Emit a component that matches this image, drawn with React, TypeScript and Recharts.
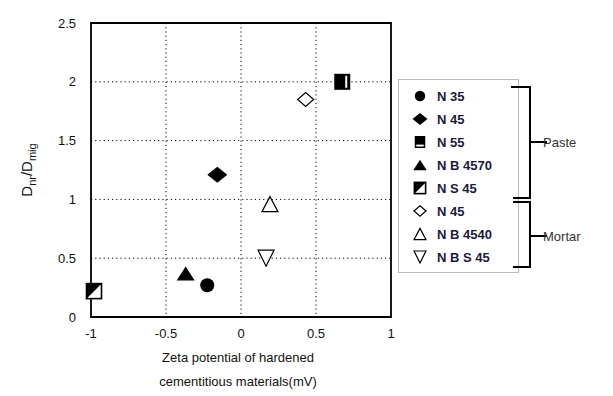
import React from 'react';
import { ScatterChart, Scatter, XAxis, YAxis, CartesianGrid, ReferenceArea, Label } from 'recharts';

const xTicks = [-1, -0.5, 0, 0.5, 1];
const yTicks = [0, 0.5, 1, 1.5, 2, 2.5];
const xTickLabels = ['-1', '-0.5', '0', '0.5', '1'];
const yTickLabels = ['0', '0.5', '1', '1.5', '2', '2.5'];

const pasteN35 = [{ x: -0.225, y: 0.27 }];
const pasteN45 = [{ x: -0.158, y: 1.21 }];
const pasteN55 = [{ x: 0.675, y: 2.0 }];
const pasteNB4570 = [{ x: -0.369, y: 0.37 }];
const pasteNS45 = [{ x: -0.98, y: 0.22 }];
const mortarN45 = [{ x: 0.431, y: 1.85 }];
const mortarNB4540 = [{ x: 0.193, y: 0.96 }];
const mortarNBS45 = [{ x: 0.167, y: 0.5 }];

const legendNames = ['N 35', 'N 45', 'N 55', 'N B 4570', 'N S 45', 'N 45', 'N B 4540', 'N B S 45'];
const groupNames = ['Paste', 'Mortar'];

type Kind = 'circle' | 'diamondF' | 'squareF' | 'triF' | 'squareHalf' | 'diamondO' | 'triO' | 'triDownO';
const kinds: Kind[] = ['circle', 'diamondF', 'squareF', 'triF', 'squareHalf', 'diamondO', 'triO', 'triDownO'];

function Marker({ kind, cx, cy, s = 1, legend = false }: { kind: Kind; cx: number; cy: number; s?: number; legend?: boolean }) {
  switch (kind) {
    case 'circle':
      return <circle cx={cx} cy={cy} r={7 * s} fill="#000" />;
    case 'diamondF':
      return <polygon points={`${cx},${cy - 8 * s} ${cx + 10 * s},${cy} ${cx},${cy + 8 * s} ${cx - 10 * s},${cy}`} fill="#000" />;
    case 'squareF':
      return legend ? (
        <g>
          <rect x={cx - 7 * s} y={cy - 8 * s} width={14 * s} height={16 * s} fill="#000" />
          <rect x={cx - 5 * s} y={cy + 3.5 * s} width={10 * s} height={2.5 * s} fill="#fff" />
        </g>
      ) : (
        <g>
          <rect x={cx - 8 * s} y={cy - 8 * s} width={16 * s} height={16 * s} fill="#000" />
          <rect x={cx + 3 * s} y={cy - 6 * s} width={2 * s} height={12 * s} fill="#fff" />
        </g>
      );
    case 'triF':
      return <polygon points={`${cx},${cy - 7 * s} ${cx + 9 * s},${cy + 7 * s} ${cx - 9 * s},${cy + 7 * s}`} fill="#000" />;
    case 'squareHalf':
      return (
        <g>
          <rect x={cx - 7.5 * s} y={cy - 7.5 * s} width={15 * s} height={15 * s} fill="#fff" stroke="#000" strokeWidth={1.6} />
          <polygon points={`${cx - 7.5 * s},${cy - 7.5 * s} ${cx + 7.5 * s},${cy - 7.5 * s} ${cx - 7.5 * s},${cy + 7.5 * s}`} fill="#000" />
        </g>
      );
    case 'diamondO':
      return <polygon points={`${cx},${cy - 7 * s} ${cx + 8 * s},${cy} ${cx},${cy + 7 * s} ${cx - 8 * s},${cy}`} fill="#fff" stroke="#000" strokeWidth={1.2} />;
    case 'triO':
      return <polygon points={`${cx},${cy - 7.5 * s} ${cx + 8 * s},${cy + 7.5 * s} ${cx - 8 * s},${cy + 7.5 * s}`} fill="#fff" stroke="#000" strokeWidth={1.2} />;
    case 'triDownO':
      return <polygon points={`${cx - 8 * s},${cy - 8 * s} ${cx + 8 * s},${cy - 8 * s} ${cx},${cy + 8 * s}`} fill="#fff" stroke="#000" strokeWidth={1.2} />;
  }
  return null;
}

const shapeFor = (kind: Kind) => (p: any) => <Marker kind={kind} cx={p.cx} cy={p.cy} />;

const series = [pasteN35, pasteN45, pasteN55, pasteNB4570, pasteNS45, mortarN45, mortarNB4540, mortarNBS45];

const font = '"Liberation Sans", Arial, sans-serif';

export default function App() {
  return (
    <div style={{ position: 'absolute', left: 0, top: 0, width: 613, height: 396, background: '#fff' }}>
      <ScatterChart width={613} height={396} margin={{ top: 23, right: 222, bottom: 0, left: 0 }}>
        <CartesianGrid stroke="#000" strokeDasharray="1.2 3" strokeWidth={1} horizontalValues={[0.5, 1, 1.5, 2]} verticalValues={[-0.5, 0, 0.5]} />
        <XAxis
          type="number"
          dataKey="x"
          domain={[-1, 1]}
          ticks={xTicks}
          tickFormatter={(v: number) => xTickLabels[xTicks.indexOf(v)] ?? String(v)}
          axisLine={false}
          tickLine={false}
          tickMargin={6}
          height={79}
          tick={{ fontSize: 13, fill: '#111', fontFamily: font }}
        >
          <Label
            content={() => (
              <g>
                <text x={238} y={362} textAnchor="middle" fontSize={13} fill="#111" fontFamily={font}>Zeta potential of hardened</text>
                <text x={238} y={386} textAnchor="middle" fontSize={13} fill="#111" fontFamily={font}>cementitious materials(mV)</text>
              </g>
            )}
          />
        </XAxis>
        <YAxis
          type="number"
          dataKey="y"
          domain={[0, 2.5]}
          ticks={yTicks}
          tickFormatter={(v: number) => yTickLabels[yTicks.indexOf(v)] ?? String(v)}
          axisLine={false}
          tickLine={false}
          tickMargin={9}
          width={91}
          tick={{ fontSize: 13, fill: '#111', fontFamily: font }}
        >
          <Label
            content={() => (
              <text x={0} y={0} transform="translate(32,170) rotate(-90)" textAnchor="middle" fontSize={15} fill="#111" fontFamily={font}>
                <tspan>D</tspan>
                <tspan fontSize={11} dy={4}>nr</tspan>
                <tspan dy={-4}>/D</tspan>
                <tspan fontSize={11} dy={4}>mig</tspan>
              </text>
            )}
          />
        </YAxis>
        <ReferenceArea x1={-1} x2={1} y1={0} y2={2.5} fill="none" stroke="#000" strokeWidth={1.8} fillOpacity={0} ifOverflow="visible" />
        {series.map((d, i) => (
          <Scatter key={i} name={legendNames[i]} data={d} shape={shapeFor(kinds[i])} isAnimationActive={false} />
        ))}
      </ScatterChart>
      <svg width={613} height={396} style={{ position: 'absolute', left: 0, top: 0, pointerEvents: 'none' }}>
        <rect x={398.5} y={79.5} width={120} height={193} fill="#fff" stroke="#bbb" strokeWidth={1} />
        {legendNames.map((n, i) => {
          const cy = 96 + i * 23;
          return (
            <g key={i}>
              <Marker kind={kinds[i]} cx={420} cy={cy} s={0.75} legend />
              <text x={437} y={cy + 5} fontSize={13} fontWeight="bold" fill="#1a1a3a" fontFamily={font}>{n}</text>
            </g>
          );
        })}
        <g stroke="#000" strokeWidth={2} fill="none">
          <polyline points="511,87 530,87 530,198 513,198" />
          <line x1={530} y1={142} x2={547} y2={142} />
          <polyline points="513,202 530,202 530,267 513,267" />
          <line x1={530} y1={236} x2={547} y2={236} />
        </g>
        <text x={543} y={147} fontSize={13} fill="#333" fontFamily={font}>{groupNames[0]}</text>
        <text x={543} y={241} fontSize={13} fill="#333" fontFamily={font}>{groupNames[1]}</text>
      </svg>
    </div>
  );
}
